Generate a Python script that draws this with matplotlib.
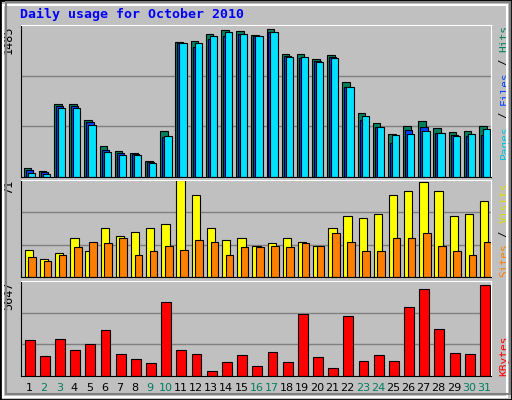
import matplotlib.pyplot as plt
from matplotlib.patches import Rectangle
import numpy as np

days = list(range(1, 32))
weekend = [2, 3, 9, 10, 16, 17, 23, 24, 30, 31]

hits = [94, 64, 729, 729, 568, 309, 259, 245, 165, 467, 1354, 1364, 1438, 1475, 1465, 1424,
        1485, 1233, 1233, 1183, 1223, 951, 648, 538, 437, 517, 558, 497, 457, 467, 517]
files = [74, 50, 716, 716, 548, 276, 239, 235, 155, 403, 1344, 1304, 1388, 1418, 1441, 1414,
         1458, 1220, 1193, 1166, 1203, 900, 571, 504, 346, 477, 501, 447, 420, 410, 420]
pages = [44, 34, 689, 689, 527, 255, 225, 225, 144, 417, 1344, 1344, 1414, 1455, 1438, 1414,
         1455, 1203, 1203, 1152, 1193, 900, 618, 507, 427, 437, 467, 447, 417, 437, 487]
visits = [20, 13, 18, 29, 19, 36, 30, 33, 36, 39, 71, 60, 36, 27, 29, 23, 25, 29, 26, 23,
          36, 45, 43, 46, 60, 63, 70, 63, 45, 46, 56]
sites = [15, 12, 16, 22, 26, 25, 29, 16, 19, 23, 20, 27, 26, 16, 22, 22, 23, 22, 25, 23,
         32, 26, 19, 19, 29, 29, 32, 23, 19, 16, 26]
kbytes = [2246, 1257, 2308, 1628, 1999, 2865, 1381, 1072, 824, 4596, 1628, 1381, 330, 886,
          1319, 639, 1504, 886, 3854, 1195, 515, 3730, 948, 1319, 948, 4287, 5400, 2927,
          1443, 1381, 5647]

BG = '#c0c0c0'
W, H = 512, 400
fig = plt.figure(figsize=(W / 100, H / 100), dpi=100, facecolor=BG)

# 3D-ish frame
fig.patches.append(Rectangle((0, 0), 1, 1, transform=fig.transFigure, fill=False,
                             edgecolor='black', linewidth=2))
fig.patches.append(Rectangle((3 / W, 3 / H), 1 - 8 / W, 1 - 8 / H, transform=fig.transFigure,
                             fill=False, edgecolor='white', linewidth=1.5))
fig.patches.append(Rectangle((6 / W, 6 / H), 1 - 8 / W, 1 - 8 / H, transform=fig.transFigure,
                             fill=False, edgecolor='#808080', linewidth=1.5))


def make_ax(top, bottom):
    ax = fig.add_axes([20.5 / W, 1 - bottom / H, (491 - 20.5) / W, (bottom - top) / H])
    ax.set_facecolor(BG)
    ax.set_xlim(0.5, 31.5)
    ax.set_xticks([])
    ax.set_yticks([])
    for s in ax.spines.values():
        s.set_color('black')
    ax.spines['top'].set_color('white')
    ax.spines['right'].set_color('white')
    return ax


mono = 'DejaVu Sans Mono'
x = np.array(days)

ax1 = make_ax(25, 177)
top1 = max(hits) / 0.972
ax1.set_ylim(0, top1)
for g in (top1 / 3, 2 * top1 / 3):
    ax1.axhline(g, color='#808080', linewidth=1, zorder=0)
ax1.bar(x - 0.04, hits, width=0.5, color='#007f5f', edgecolor='black', linewidth=0.8)
ax1.bar(x + 0.08, files, width=0.48, color='#0040ff', edgecolor='black', linewidth=0.8)
ax1.bar(x + 0.21, pages, width=0.48, color='#00e0ff', edgecolor='black', linewidth=0.8)

ax2 = make_ax(180, 277)
top2 = max(visits) / 0.996
ax2.set_ylim(0, top2)
for g in (top2 / 3, 2 * top2 / 3):
    ax2.axhline(g, color='#808080', linewidth=1, zorder=0)
ax2.bar(x + 0.05, visits, width=0.55, color='#ffff00', edgecolor='black', linewidth=0.8)
ax2.bar(x + 0.27, sites, width=0.5, color='#ff8000', edgecolor='black', linewidth=0.8)

ax3 = make_ax(281, 376)
top3 = max(kbytes) / 0.96
ax3.set_ylim(0, top3)
for g in (top3 / 3, 2 * top3 / 3):
    ax3.axhline(g, color='#808080', linewidth=1, zorder=0)
ax3.bar(x + 0.1, kbytes, width=0.65, color='#ff0000', edgecolor='black', linewidth=0.8)

for d in days:
    ax3.text(d + 0.05, -0.13, str(d), transform=ax3.get_xaxis_transform(), ha='center',
             va='center', fontsize=8, family='DejaVu Sans',
             color='#00805f' if d in weekend else 'black')

# left max labels
for ax, val in ((ax1, max(hits)), (ax2, max(visits)), (ax3, max(kbytes))):
    ax.text(-0.012, 1.0, str(val), transform=ax.transAxes, rotation=90, ha='right',
            va='top', fontsize=8.5, family=mono)

fig.text(20 / W, 1 - 14 / H, 'Daily usage for October 2010', color='#0000ff', fontsize=9.5,
         family=mono, fontweight='bold', va='center', ha='left')

CHAR_PX = 6.7


def side_label(ax, parts, y0):
    # parts listed bottom-to-top
    y = y0
    for txt, col in parts:
        ax.text(1.018, y, txt, transform=ax.transAxes, rotation=90, ha='left', va='bottom',
                fontsize=8, family=mono, color=col)
        y += len(txt) * CHAR_PX / (ax.get_position().height * H)


side_label(ax1, [('Pages', '#00c0e0'), (' / ', '#000000'), ('Files', '#0040ff'),
                 (' / ', '#000000'), ('Hits', '#007f5f')], 0.12)
side_label(ax2, [('Sites', '#ff8000'), (' / ', '#000000'), ('Visits', '#e0e000')], 0.0)
side_label(ax3, [('KBytes', '#ff0000')], 0.0)

fig.savefig('out.png', dpi=100, facecolor=BG)
